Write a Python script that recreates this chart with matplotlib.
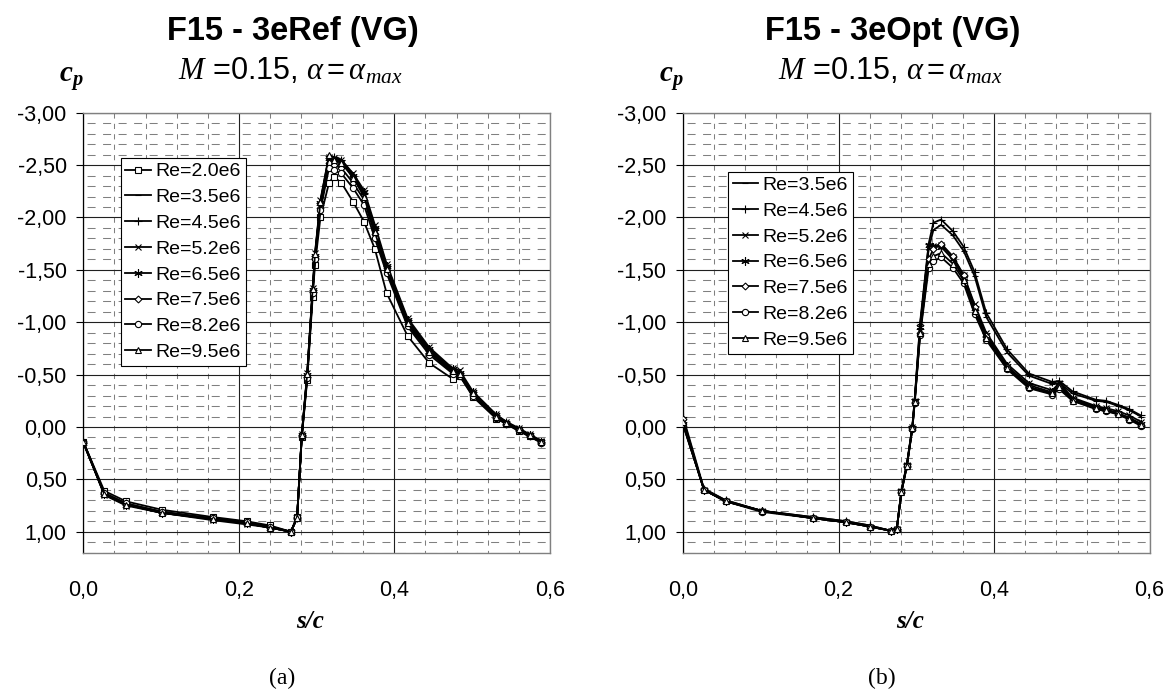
import matplotlib
matplotlib.use('Agg')
import matplotlib.pyplot as plt
from matplotlib.ticker import MultipleLocator, FuncFormatter

plt.rcParams['font.family'] = ['Liberation Sans', 'DejaVu Sans']
plt.rcParams['mathtext.fontset'] = 'custom'
plt.rcParams['mathtext.rm'] = 'Liberation Sans'
plt.rcParams['mathtext.it'] = 'Liberation Serif:italic'
plt.rcParams['mathtext.bf'] = 'Liberation Serif:bold:italic'

## pressure taps (s/c), shared by both panels
s_c = [0.000, 0.027, 0.055, 0.101, 0.167, 0.210, 0.240, 0.267, 0.275, 0.281,
       0.288, 0.295, 0.298, 0.305, 0.316, 0.322, 0.332, 0.347, 0.361, 0.375,
       0.390, 0.417, 0.445, 0.475, 0.484, 0.501, 0.531, 0.544, 0.560, 0.574, 0.589]

## (a) 3eRef
ref_re20 = [0.14, 0.61, 0.71, 0.79, 0.86, 0.90, 0.94, 1.00, 0.86, 0.10,
            -0.45, -1.24, -1.55, -2.00, -2.33, -2.39, -2.33, -2.15, -1.96, -1.70,
            -1.28, -0.87, -0.61, -0.46, -0.49, -0.29, -0.08, -0.03, 0.04, 0.09, 0.14]
ref_re35 = [0.14, 0.64, 0.74, 0.81, 0.88, 0.92, 0.96, 1.00, 0.86, 0.08,
            -0.49, -1.30, -1.62, -2.12, -2.55, -2.56, -2.53, -2.39, -2.22, -1.88,
            -1.52, -1.00, -0.73, -0.54, -0.51, -0.32, -0.10, -0.04, 0.02, 0.08, 0.14]
ref_re45 = [0.15, 0.64, 0.74, 0.82, 0.88, 0.92, 0.96, 1.00, 0.87, 0.08,
            -0.50, -1.31, -1.63, -2.14, -2.57, -2.58, -2.55, -2.40, -2.23, -1.90,
            -1.54, -1.02, -0.74, -0.55, -0.52, -0.33, -0.11, -0.05, 0.02, 0.08, 0.14]
ref_re52 = [0.14, 0.65, 0.75, 0.82, 0.89, 0.93, 0.96, 1.00, 0.87, 0.07,
            -0.52, -1.33, -1.66, -2.17, -2.58, -2.57, -2.55, -2.42, -2.26, -1.93,
            -1.56, -1.04, -0.76, -0.56, -0.54, -0.34, -0.12, -0.05, 0.01, 0.07, 0.13]
ref_re65 = [0.15, 0.64, 0.74, 0.82, 0.88, 0.92, 0.96, 1.00, 0.86, 0.08,
            -0.50, -1.31, -1.63, -2.14, -2.57, -2.55, -2.53, -2.40, -2.24, -1.90,
            -1.54, -1.02, -0.74, -0.55, -0.52, -0.33, -0.11, -0.04, 0.02, 0.08, 0.14]
ref_re75 = [0.14, 0.63, 0.73, 0.81, 0.88, 0.92, 0.95, 1.00, 0.86, 0.09,
            -0.48, -1.29, -1.60, -2.09, -2.52, -2.50, -2.47, -2.33, -2.17, -1.84,
            -1.50, -0.98, -0.71, -0.52, -0.50, -0.31, -0.09, -0.03, 0.03, 0.09, 0.15]
ref_re82 = [0.15, 0.63, 0.73, 0.81, 0.87, 0.91, 0.95, 1.00, 0.86, 0.09,
            -0.47, -1.28, -1.60, -2.07, -2.47, -2.45, -2.42, -2.28, -2.12, -1.80,
            -1.47, -0.96, -0.69, -0.51, -0.49, -0.30, -0.09, -0.03, 0.03, 0.09, 0.15]
ref_re95 = [0.14, 0.64, 0.74, 0.82, 0.88, 0.92, 0.96, 1.00, 0.87, 0.08,
            -0.51, -1.32, -1.65, -2.15, -2.60, -2.55, -2.52, -2.38, -2.20, -1.86,
            -1.51, -0.99, -0.72, -0.53, -0.51, -0.32, -0.10, -0.04, 0.02, 0.08, 0.14]

## (b) 3eOpt
opt_re35 = [-0.02, 0.59, 0.70, 0.80, 0.86, 0.90, 0.94, 0.99, 0.97, 0.61,
            0.36, 0.00, -0.26, -0.98, -1.70, -1.88, -1.93, -1.83, -1.68, -1.44,
            -1.05, -0.71, -0.49, -0.41, -0.42, -0.32, -0.25, -0.24, -0.20, -0.16, -0.10]
opt_re45 = [-0.10, 0.59, 0.70, 0.80, 0.86, 0.90, 0.94, 0.99, 0.97, 0.60,
            0.35, -0.01, -0.27, -1.00, -1.75, -1.95, -1.98, -1.87, -1.72, -1.48,
            -1.09, -0.74, -0.51, -0.43, -0.44, -0.34, -0.26, -0.25, -0.21, -0.17, -0.11]
opt_re52 = [-0.05, 0.60, 0.71, 0.80, 0.87, 0.91, 0.95, 0.99, 0.97, 0.61,
            0.36, 0.00, -0.25, -0.92, -1.72, -1.73, -1.74, -1.62, -1.45, -1.17,
            -0.90, -0.60, -0.42, -0.35, -0.42, -0.28, -0.20, -0.18, -0.15, -0.11, -0.05]
opt_re65 = [-0.03, 0.60, 0.71, 0.80, 0.87, 0.91, 0.95, 0.99, 0.97, 0.61,
            0.36, 0.01, -0.25, -0.95, -1.74, -1.72, -1.72, -1.60, -1.42, -1.14,
            -0.88, -0.58, -0.40, -0.33, -0.40, -0.27, -0.19, -0.17, -0.13, -0.09, -0.03]
opt_re75 = [-0.08, 0.60, 0.71, 0.80, 0.87, 0.91, 0.95, 0.99, 0.97, 0.62,
            0.37, 0.01, -0.24, -0.90, -1.60, -1.70, -1.75, -1.63, -1.45, -1.15,
            -0.87, -0.57, -0.38, -0.32, -0.38, -0.26, -0.18, -0.16, -0.13, -0.08, -0.02]
opt_re82 = [-0.03, 0.60, 0.71, 0.81, 0.87, 0.91, 0.95, 0.99, 0.97, 0.62,
            0.37, 0.02, -0.23, -0.88, -1.52, -1.58, -1.62, -1.52, -1.37, -1.08,
            -0.83, -0.55, -0.37, -0.31, -0.36, -0.25, -0.17, -0.15, -0.12, -0.07, -0.01]
opt_re95 = [-0.05, 0.60, 0.71, 0.80, 0.87, 0.91, 0.95, 0.99, 0.97, 0.62,
            0.37, 0.01, -0.24, -0.90, -1.56, -1.63, -1.66, -1.56, -1.40, -1.11,
            -0.85, -0.56, -0.38, -0.32, -0.38, -0.25, -0.18, -0.16, -0.12, -0.08, -0.02]

ref_labels = ['Re=2.0e6', 'Re=3.5e6', 'Re=4.5e6', 'Re=5.2e6',
              'Re=6.5e6', 'Re=7.5e6', 'Re=8.2e6', 'Re=9.5e6']
opt_labels = ref_labels[1:]
ref_series = [ref_re20, ref_re35, ref_re45, ref_re52, ref_re65, ref_re75, ref_re82, ref_re95]
opt_series = [opt_re35, opt_re45, opt_re52, opt_re65, opt_re75, opt_re82, opt_re95]

# marker style per Reynolds number (Excel-like)
markers = {
    'Re=2.0e6': ('s', 4.5),
    'Re=3.5e6': ('_', 5.0),
    'Re=4.5e6': ('+', 6.0),
    'Re=5.2e6': ('x', 5.0),
    'Re=6.5e6': ((6, 2, 0), 6.0),
    'Re=7.5e6': ('D', 3.5),
    'Re=8.2e6': ('o', 4.5),
    'Re=9.5e6': ('^', 5.0),
}

W, H = 1173, 689
fig = plt.figure(figsize=(W / 100, H / 100), dpi=100)

def px(x, y):
    return x / W, 1 - y / H

def cp_fmt(v, pos):
    if abs(v) < 1e-9:
        v = 0.0
    return f'{v:.2f}'.replace('.', ',')

def sc_fmt(v, pos):
    if abs(v) < 1e-9:
        v = 0.0
    return f'{v:.1f}'.replace('.', ',')

def draw_panel(left, series, labels, leg_anchor, title, tag):
    ax = fig.add_axes([left / W, (H - 552.7) / H, 466.5 / W, 440 / H])
    for lab, cp in zip(labels, series):
        mk, ms = markers[lab]
        ax.plot(s_c, cp, color='black', lw=1.3, marker=mk, ms=ms,
                mfc='white', mec='black', mew=0.8, label=lab, zorder=3)
    ax.set_xlim(0, 0.6)
    ax.set_ylim(1.2, -3.0)
    ax.xaxis.set_major_locator(MultipleLocator(0.2))
    ax.xaxis.set_minor_locator(MultipleLocator(0.04))
    ax.yaxis.set_major_locator(MultipleLocator(0.5))
    ax.yaxis.set_minor_locator(MultipleLocator(0.1))
    ax.yaxis.set_major_formatter(FuncFormatter(cp_fmt))
    ax.xaxis.set_major_formatter(FuncFormatter(sc_fmt))
    ax.set_axisbelow(True)
    ax.grid(which='major', color='#202020', lw=0.8, ls='-')
    ax.grid(which='minor', axis='y', color='#808080', lw=0.75, ls=(11, (7.7, 7.2)))
    ax.grid(which='minor', axis='x', color='#808080', lw=0.75, ls=(2.5, (5, 5)))
    ax.tick_params(axis='y', which='major', direction='out', length=5, width=0.8,
                   pad=7, labelsize=15.5)
    ax.tick_params(axis='y', which='minor', length=0)
    ax.tick_params(axis='x', which='both', length=0, pad=20, labelsize=15.5)
    for side in ['top', 'right', 'bottom']:
        ax.spines[side].set_color('#808080')
        ax.spines[side].set_linewidth(1.0)
    ax.spines['left'].set_color('black')
    ax.spines['left'].set_linewidth(0.9)

    leg = ax.legend(loc='upper left', bbox_to_anchor=leg_anchor, frameon=True,
                    fancybox=False, edgecolor='black', framealpha=1, fontsize=14,
                    handlelength=1.3, handletextpad=0.25, labelspacing=0.42,
                    borderpad=0.25, borderaxespad=0)
    leg.get_frame().set_linewidth(0.8)

    # titles and axis captions
    fig.text(*px(left + 210, 40), title, ha='center', va='baseline',
             fontsize=23.5, fontweight='bold')
    fig.text(*px(left + 207, 80),
             r'$\mathit{M}$ =0.15, $\mathit{\alpha} = \mathit{\alpha}_{\mathit{max}}$',
             ha='center', va='baseline', fontsize=22)
    fig.text(*px(left - 12, 82), r'$\mathbf{c}_{\mathbf{p}}$', ha='center',
             va='baseline', fontsize=21)
    fig.text(*px(left + 227, 628), 's/c', ha='center', va='baseline', fontsize=18,
             family='Liberation Serif', style='italic', weight='bold')
    fig.text(*px(left + 199, 684), tag, ha='center', va='baseline', fontsize=17,
             family='Liberation Serif')
    return ax

ax_a = draw_panel(83.3, ref_series, ref_labels, (0.080, 0.897), 'F15 - 3eRef (VG)', '(a)')
ax_b = draw_panel(683.0, opt_series, opt_labels, (0.096, 0.866), 'F15 - 3eOpt (VG)', '(b)')

fig.savefig('out.png', dpi=100, facecolor='white')
